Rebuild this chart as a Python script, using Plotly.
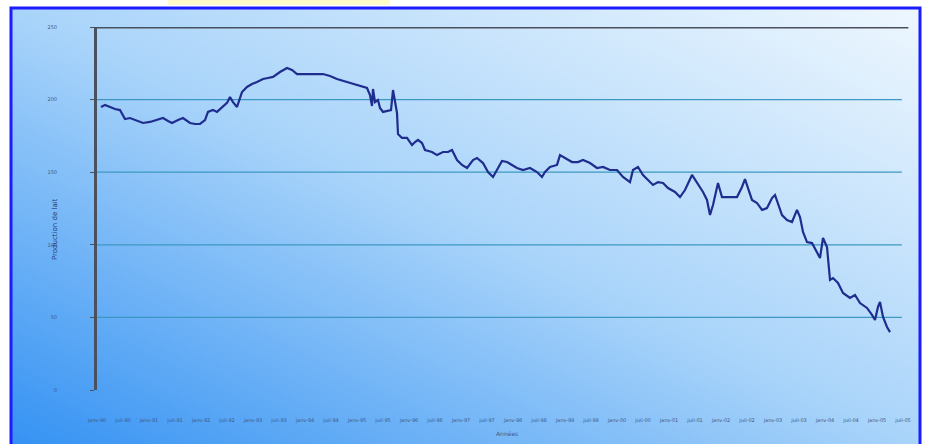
import base64
import plotly.graph_objects as go

# Weekly observations (week index from the start of the period) and values
weeks = [4, 8, 13, 18, 23, 28, 33, 40, 46, 53, 60, 66, 71, 75, 81, 86, 93, 98, 103, 108,
         111, 116, 120, 125, 130, 133, 136, 140, 145, 150, 155, 160, 166, 171, 176, 183, 190, 195, 200, 208,
         213, 220, 226, 233, 240, 250, 260, 265, 270, 273, 275, 276, 278, 281, 283, 286, 292, 294, 296, 298,
         300, 301, 305, 310, 315, 318, 321, 325, 328, 335, 340, 346, 351, 355, 360, 365, 370, 376, 380, 386,
         391, 396, 400, 405, 410, 415, 420, 426, 433, 440, 445, 448, 453, 460, 463, 468, 475, 481, 486, 493,
         500, 506, 513, 520, 526, 533, 536, 541, 546, 551, 556, 561, 566, 571, 578, 583, 588, 595, 600, 606,
         610, 613, 616, 618, 621, 625, 633, 640, 645, 648, 651, 655, 660, 665, 670, 675, 678, 681, 685, 690,
         695, 700, 703, 706, 710, 715, 720, 723, 726, 730, 733, 736, 741, 746, 753, 758, 763, 770, 775, 778,
         781, 783, 786, 790, 793]
values = [194.9, 196.3, 194.9, 193.5, 192.8, 186.6, 187.3, 185.3, 183.9, 184.6, 185.9, 187.3, 185.3, 183.9, 185.9, 187.3, 183.9, 183.2, 183.2, 185.9,
          191.5, 192.8, 191.5, 194.9, 197.7, 201.8, 198.3, 194.9, 205.2, 208.7, 210.7, 212.1, 214.2, 214.9, 215.6, 219.0, 221.8, 220.4, 217.6, 217.6,
          217.6, 217.6, 217.6, 216.3, 214.2, 212.1, 210.1, 208.7, 208.0, 203.2, 195.6, 207.3, 198.3, 199.7, 194.2, 191.5, 192.1, 192.8, 206.6, 199.7,
          190.8, 176.3, 173.6, 173.6, 168.7, 170.8, 172.2, 170.1, 165.3, 163.9, 161.8, 163.9, 163.9, 165.3, 158.4, 155.0, 152.9, 158.4, 159.8, 156.3,
          150.1, 146.7, 151.5, 157.7, 157.0, 155.0, 152.9, 151.5, 152.9, 150.1, 146.7, 150.1, 153.6, 155.0, 161.8, 159.8, 157.0, 157.0, 158.4, 156.3,
          152.9, 153.6, 151.5, 151.5, 146.7, 143.2, 151.5, 153.6, 148.1, 144.6, 141.2, 143.2, 142.6, 139.1, 136.4, 132.9, 137.7, 148.1, 142.6, 136.4,
          130.9, 120.5, 127.4, 134.3, 142.6, 132.9, 132.9, 132.9, 139.8, 145.3, 139.1, 130.9, 128.8, 124.0, 125.3, 132.2, 134.3, 128.8, 120.5, 117.1,
          115.7, 124.0, 119.1, 108.8, 101.9, 101.2, 95.0, 90.9, 104.7, 98.5, 75.8, 77.1, 73.7, 66.8, 63.4, 65.4, 59.9, 56.5, 51.7, 48.2,
          57.2, 60.6, 50.3, 43.4, 39.9]

# Half-year period labels (one every 26 weeks)
period_weeks = [0, 26, 52, 78, 104, 130, 156, 182, 208, 234, 260, 286, 312, 338, 364, 390,
                416, 442, 468, 494, 520, 546, 572, 598, 624, 650, 676, 702, 728, 754, 780, 806]
period_labels = ["janv-90", "juil-90", "janv-91", "juil-91", "janv-92", "juil-92", "janv-93", "juil-93",
                 "janv-94", "juil-94", "janv-95", "juil-95", "janv-96", "juil-96", "janv-97", "juil-97",
                 "janv-98", "juil-98", "janv-99", "juil-99", "janv-00", "juil-00", "janv-01", "juil-01",
                 "janv-02", "juil-02", "janv-03", "juil-03", "janv-04", "juil-04", "janv-05", "juil-05"]

y_ticks = [0, 50, 100, 150, 200, 250]
y_title = "Production de lait"
x_title = "Années"

# Diagonal background gradient (dark blue bottom-left to pale top-right)
svg = """<svg xmlns='http://www.w3.org/2000/svg' width='908' height='435' preserveAspectRatio='none' viewBox='0 0 908 435'>
<defs><linearGradient id='g' x1='0' y1='1' x2='1' y2='0'>
<stop offset='0' stop-color='#3592f3'/>
<stop offset='0.5' stop-color='#a9d4fa'/>
<stop offset='1' stop-color='#eef7fe'/>
</linearGradient></defs>
<rect x='0' y='0' width='908' height='435' fill='url(#g)'/>
</svg>"""
bg_src = "data:image/svg+xml;base64," + base64.b64encode(svg.encode()).decode()

# Figure geometry helpers (paper units relative to the plot area)
L, R, T, B = 97, 15, 27, 54
W, H = 925, 444
PW, PH = W - L - R, H - T - B


def px(xp):
    return (xp - L) / PW


def py(yp):
    return (H - B - yp) / PH


fig = go.Figure()
fig.add_trace(go.Scatter(
    x=weeks, y=values, mode="lines",
    line=dict(color="#1f2d8e", width=2.2),
    hoverinfo="skip", showlegend=False,
))

shapes = []
# border frame
shapes.append(dict(type="rect", xref="paper", yref="paper",
                   x0=px(11), x1=px(920), y0=py(447), y1=py(8),
                   line=dict(color="#1c1cff", width=3), fillcolor="rgba(0,0,0,0)", layer="above"))
# pale yellow band at the top edge
shapes.append(dict(type="rect", xref="paper", yref="paper",
                   x0=px(168), x1=px(390), y0=py(5), y1=py(-2),
                   line=dict(width=0), fillcolor="#fffbc8", layer="above"))
# horizontal gridlines at the inner tick levels
for v in y_ticks[1:-1]:
    shapes.append(dict(type="line", xref="paper", yref="y", x0=0, x1=0.99, y0=v, y1=v,
                       line=dict(color="#3c98c2", width=1.2), layer="below"))
# dark top line at the maximum level
shapes.append(dict(type="line", xref="paper", yref="y", x0=0, x1=0.998, y0=y_ticks[-1], y1=y_ticks[-1],
                   line=dict(color="#4a505e", width=3), layer="above"))

fig.update_layout(
    width=W, height=H,
    margin=dict(l=L, r=R, t=T, b=B),
    paper_bgcolor="white",
    plot_bgcolor="rgba(0,0,0,0)",
    images=[dict(source=bg_src, xref="paper", yref="paper",
                 x=px(12), y=py(9), sizex=908 / PW, sizey=435 / PH,
                 xanchor="left", yanchor="top", sizing="stretch", layer="below")],
    shapes=shapes,
    xaxis=dict(range=[0, PW], tickvals=period_weeks, ticktext=period_labels,
               showgrid=False, zeroline=False, showline=False, ticks="",
               tickfont=dict(family="DejaVu Sans", size=5, color="#3a5a8c"),
               ticklabelstandoff=26, tickangle=0),
    yaxis=dict(range=[0, 250], tickvals=y_ticks, showgrid=False, zeroline=False,
               showline=True, linecolor="#4a505e", linewidth=3,
               ticks="outside", ticklen=4, tickcolor="#4a505e", tickwidth=1,
               tickfont=dict(family="DejaVu Sans", size=5, color="#3a5a8c"),
               ticklabelstandoff=32),
    annotations=[
        dict(text=y_title, xref="paper", yref="paper", x=px(55), y=py(229),
             textangle=-90, showarrow=False, xanchor="center", yanchor="middle",
             font=dict(family="DejaVu Sans", size=7, color="#1f3d78")),
        dict(text=x_title, xref="paper", yref="paper", x=px(507), y=py(433),
             showarrow=False, xanchor="center", yanchor="middle",
             font=dict(family="DejaVu Sans", size=6, color="#3a5a8c")),
    ],
)

fig.write_html("out.html")
